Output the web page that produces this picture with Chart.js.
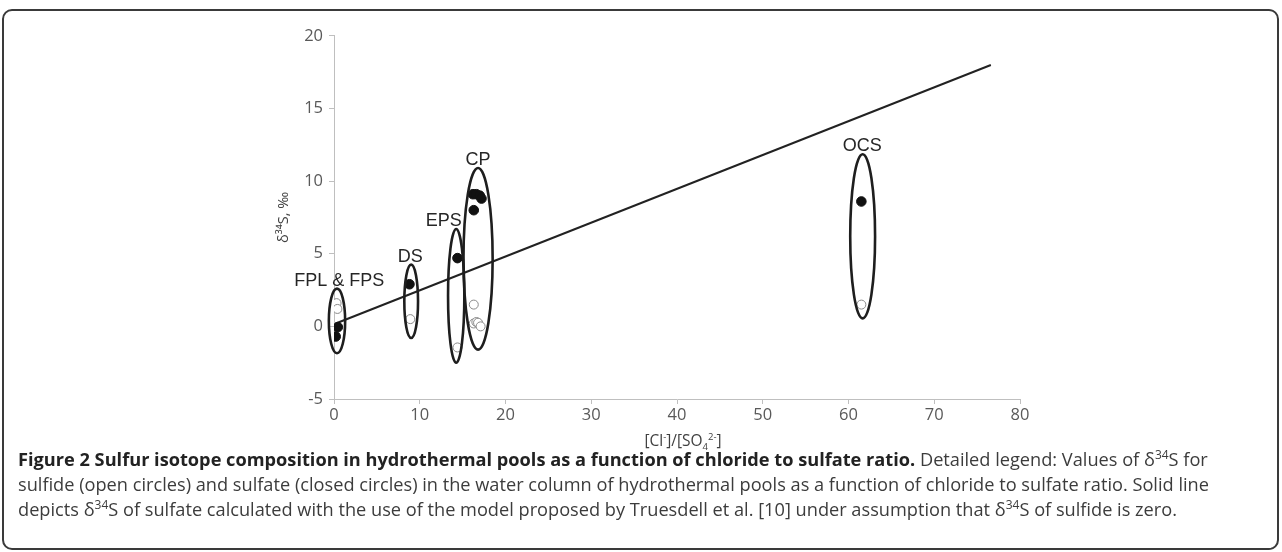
<!DOCTYPE html>
<html>
<head>
<meta charset="utf-8">
<script src="https://cdn.jsdelivr.net/npm/chart.js@4.4.1/dist/chart.umd.min.js"></script>
<style>
    html, body { margin: 0; padding: 0; background: #fff; }
    body { width: 1282px; height: 552px; position: relative; overflow: hidden; font-family: "Open Sans", sans-serif; }
    .frame {
        position: absolute; left: 2px; top: 9px; width: 1273px; height: 537px;
        border: 2px solid #3a3a3a; border-radius: 10px;
    }
    .plot { position: absolute; left: 240px; top: 20px; width: 800px; height: 410px; }
    .x-title {
        position: absolute; left: 683px; top: 430px; transform: translateX(-50%);
        font-size: 15.5px; line-height: 20px; color: #404040; white-space: nowrap;
    }
    .x-title sup, .x-title sub { font-size: 9.5px; line-height: 0; }
    .caption {
        position: absolute; left: 18px; top: 447px; width: 1260px;
        font-size: 18.2px; line-height: 25px; color: #3c3c3c; white-space: nowrap;
    }
    .caption b { color: #222; }
    .caption sup { font-size: 12px; line-height: 0; }
</style>
</head>
<body>
<div class="frame"></div>
<div class="plot"><canvas id="isotopeChart"></canvas></div>
<div class="x-title">[Cl<sup>-</sup>]/[SO<sub>4</sub><sup>2-</sup>]</div>
<div class="caption">
    <b>Figure 2 Sulfur isotope composition in hydrothermal pools as a function of chloride to sulfate ratio.</b> Detailed legend: Values of δ<sup>34</sup>S for<br>
    sulfide (open circles) and sulfate (closed circles) in the water column of hydrothermal pools as a function of chloride to sulfate ratio. Solid line<br>
    depicts δ<sup>34</sup>S of sulfate calculated with the use of the model proposed by Truesdell et al. [10] under assumption that δ<sup>34</sup>S of sulfide is zero.
</div>

<script>
// Sulfate (closed circles): [Cl-]/[SO4 2-] ratio and d34S, permil
const sulfateRatio = [0.2, 0.45, 8.8, 14.4, 16.2, 16.6, 17.0, 17.2, 16.3, 61.5];
const sulfateDelta = [-0.7, -0.05, 2.9, 4.7, 9.1, 9.1, 9.0, 8.8, 8.0, 8.6];

// Sulfide (open circles)
const sulfideRatio = [0.3, 0.4, 8.9, 14.4, 16.3, 16.3, 16.6, 16.8, 17.1, 61.5];
const sulfideDelta = [1.6, 1.2, 0.5, -1.45, 1.5, 0.2, 0.3, 0.25, 0.0, 1.5];

// Model line (Truesdell et al.)
const modelRatio = [0.2, 76.6];
const modelDelta = [0.2, 18.0];

// Pool groups outlined by ellipses (ranges in data units)
const groupNames = ['FPL & FPS', 'DS', 'EPS', 'CP', 'OCS'];
const groupRatioRange = [[-0.6, 1.3], [8.2, 9.8], [13.3, 15.2], [15.1, 18.5], [60.2, 63.1]];
const groupDeltaRange = [[-1.85, 2.6], [-0.8, 4.25], [-2.5, 6.7], [-1.6, 10.9], [0.55, 11.85]];
const groupLabelRatio = [0.6, 8.9, 12.8, 16.8, 61.6];

// Axis ticks
const ratioTicks = [0, 10, 20, 30, 40, 50, 60, 70, 80];
const deltaTicks = [-5, 0, 5, 10, 15, 20];

let chart = null;

function toPoints(xs, ys) {
    return xs.map((x, i) => ({ x: x, y: ys[i] }));
}

// Draws the group ellipses and their names
const groupEllipses = {
    id: 'groupEllipses',
    afterDatasetsDraw(c) {
        const xScale = c.scales.x;
        const yScale = c.scales.y;
        const ctx = c.ctx;
        ctx.save();
        groupNames.forEach((name, i) => {
            const x0 = xScale.getPixelForValue(groupRatioRange[i][0]);
            const x1 = xScale.getPixelForValue(groupRatioRange[i][1]);
            const yTop = yScale.getPixelForValue(groupDeltaRange[i][1]);
            const yBottom = yScale.getPixelForValue(groupDeltaRange[i][0]);

            ctx.beginPath();
            ctx.ellipse((x0 + x1) / 2, (yTop + yBottom) / 2, (x1 - x0) / 2, (yBottom - yTop) / 2, 0, 0, Math.PI * 2);
            ctx.lineWidth = 2.6;
            ctx.strokeStyle = '#1e1e1e';
            ctx.stroke();

            ctx.font = '18px "Liberation Sans", Arial, sans-serif';
            ctx.fillStyle = '#262626';
            ctx.textAlign = 'center';
            ctx.textBaseline = 'alphabetic';
            ctx.fillText(name, xScale.getPixelForValue(groupLabelRatio[i]), yTop - 3);
        });
        ctx.restore();
    }
};

function setupChart() {
    const canvas = document.getElementById('isotopeChart');
    if (!canvas) return;

    chart = new Chart(canvas.getContext('2d'), {
        type: 'scatter',
        data: {
            datasets: [
                {
                    label: 'Model',
                    type: 'line',
                    data: toPoints(modelRatio, modelDelta),
                    borderColor: '#222',
                    borderWidth: 2,
                    pointRadius: 0,
                    fill: false,
                    order: 3
                },
                {
                    label: 'Sulfide',
                    data: toPoints(sulfideRatio, sulfideDelta),
                    pointRadius: 4.5,
                    pointBackgroundColor: '#fff',
                    pointBorderColor: '#8a8a8a',
                    pointBorderWidth: 1,
                    order: 2
                },
                {
                    label: 'Sulfate',
                    data: toPoints(sulfateRatio, sulfateDelta),
                    pointRadius: 4.8,
                    pointBackgroundColor: '#111',
                    pointBorderColor: '#111',
                    pointBorderWidth: 1,
                    order: 1
                }
            ]
        },
        options: {
            responsive: true,
            maintainAspectRatio: false,
            animation: false,
            layout: { padding: { top: 14, right: 20, left: 0, bottom: 0 } },
            plugins: {
                legend: { display: false },
                tooltip: { enabled: false }
            },
            scales: {
                x: {
                    type: 'linear',
                    min: 0,
                    max: 80,
                    afterBuildTicks: scale => { scale.ticks = ratioTicks.map(v => ({ value: v })); },
                    afterFit: scale => { scale.height = 31; },
                    grid: { drawOnChartArea: false, drawTicks: true, tickLength: 5, color: '#bfbfbf' },
                    border: { color: '#bfbfbf', width: 1 },
                    ticks: {
                        color: '#595959',
                        padding: 1,
                        maxRotation: 0,
                        font: { family: '"Open Sans", sans-serif', size: 16.5 }
                    }
                },
                y: {
                    type: 'linear',
                    min: -5,
                    max: 20,
                    afterBuildTicks: scale => { scale.ticks = deltaTicks.map(v => ({ value: v })); },
                    afterFit: scale => { scale.width = 94; },
                    grid: { drawOnChartArea: false, drawTicks: true, tickLength: 5, color: '#bfbfbf' },
                    border: { color: '#bfbfbf', width: 1 },
                    ticks: {
                        color: '#595959',
                        padding: 6,
                        font: { family: '"Open Sans", sans-serif', size: 16.5 }
                    },
                    title: {
                        display: true,
                        text: 'δ³⁴S, ‰',
                        color: '#404040',
                        font: { family: '"Open Sans", "DejaVu Sans", sans-serif', size: 14.5 },
                        padding: { top: 35, bottom: 0 }
                    }
                }
            }
        },
        plugins: [groupEllipses]
    });
}

setupChart();
</script>
</body>
</html>
